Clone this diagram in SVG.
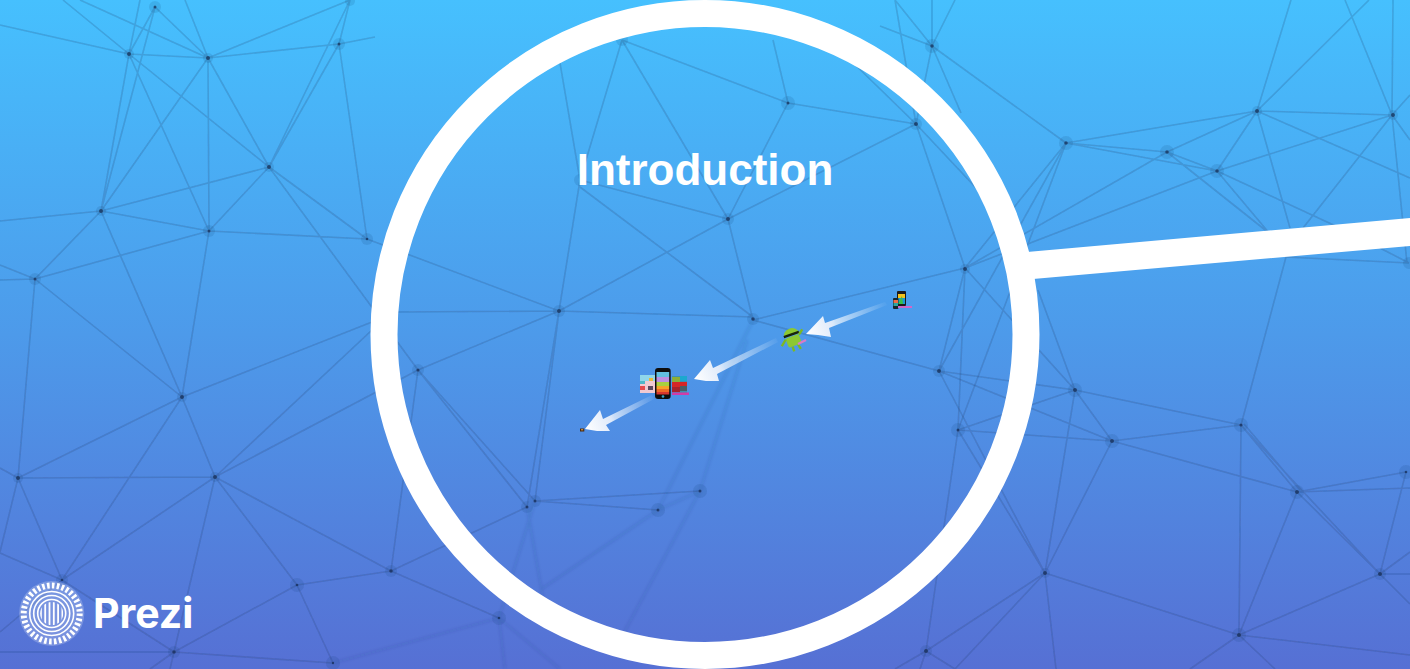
<svg xmlns="http://www.w3.org/2000/svg" width="1410" height="669" viewBox="0 0 1410 669">
<style>
.e{fill:none;stroke:#1c3566;stroke-width:1.6;stroke-opacity:.2}
.s{stroke-opacity:.12;stroke-width:2.2}
.h{fill:#1c3566;opacity:.12}
.c{fill:#142a50;opacity:.7}
.n{font-family:"Liberation Sans",Arial,sans-serif;font-weight:700;font-size:44px;fill:#fff;text-anchor:middle}
.p{font-family:Inter,"Liberation Sans",sans-serif;font-weight:700;font-size:41px;fill:#fff}
.w{fill:none;stroke:#fff}
</style>
<defs>
<linearGradient id="bg" x1="0" y1="0" x2="0" y2="1"><stop offset="0" stop-color="#46c0fe"/><stop offset=".5" stop-color="#4d9aea"/><stop offset="1" stop-color="#5670d4"/></linearGradient>
<filter id="b1" x="-5%" y="-5%" width="110%" height="110%"><feGaussianBlur stdDeviation=".75"/></filter>
<filter id="b2" x="-5%" y="-5%" width="110%" height="110%"><feGaussianBlur stdDeviation="1.5"/></filter>
<filter id="b3" x="-30%" y="-30%" width="160%" height="160%"><feGaussianBlur stdDeviation=".6"/></filter>
<linearGradient id="a1" gradientUnits="userSpaceOnUse" x1="806" y1="334" x2="885" y2="305"><stop offset="0" stop-color="#fff"/><stop offset=".32" stop-color="#dfeafa"/><stop offset=".38" stop-color="#fff" stop-opacity=".7"/><stop offset="1" stop-color="#fff" stop-opacity=".05"/></linearGradient>
<linearGradient id="a2" gradientUnits="userSpaceOnUse" x1="694" y1="379" x2="777" y2="340"><stop offset="0" stop-color="#fff"/><stop offset=".3" stop-color="#dfeafa"/><stop offset=".36" stop-color="#fff" stop-opacity=".7"/><stop offset="1" stop-color="#fff" stop-opacity=".05"/></linearGradient>
<linearGradient id="a3" gradientUnits="userSpaceOnUse" x1="585" y1="429" x2="653" y2="397"><stop offset="0" stop-color="#fff"/><stop offset=".36" stop-color="#dfeafa"/><stop offset=".42" stop-color="#fff" stop-opacity=".7"/><stop offset="1" stop-color="#fff" stop-opacity=".05"/></linearGradient>
<clipPath id="lc"><circle cx="51.7" cy="613.5" r="11.5"/></clipPath>
</defs>
<rect id="background" width="1410" height="669" fill="url(#bg)"/>
<g id="network">
<g filter="url(#b1)">
<path class="e" d="M208 58L129 54M208 58L339 44M208 58L350 0M208 58L185 0M208 58L155 7M208 58L80 0M129 54L63 0M129 54L0 25M129 54L155 7M129 54L140 0M129 54L101 211M155 7L101 211M129 54L209 231M129 54L269 167M208 58L101 211M208 58L209 231M208 58L269 167M269 167L101 211M269 167L209 231M269 167L339 44M269 167L350 0M339 44L350 0M339 44L375 37M339 44L367 239M269 167L367 239M269 167L418 370M101 211L0 221M101 211L209 231M101 211L35 279M101 211L182 397M209 231L35 279M209 231L367 239M209 231L182 397M35 279L0 265M35 279L0 280M35 279L182 397M35 279L18 478M182 397L372 322M182 397L18 478M182 397L215 477M182 397L62 580M18 478L215 477M18 478L62 580M18 478L0 468M18 478L0 552M62 580L215 477M62 580L0 553M62 580L0 632M215 477L372 330M215 477L418 370M215 477L391 571M215 477L297 585M215 477L174 652M297 585L391 571M297 585L333 663M297 585L174 652M391 571L527 507M174 652L0 652M174 652L150 669M174 652L170 669M174 652L333 663M62 580L174 652M391 571L418 370M391 571L499 618"/>
<path class="e" d="M622 40L580 180M560 63L580 180M622 40L728 219M622 40L788 103M788 103L728 219M788 103L916 124M788 103L773 40M728 219L580 180M728 219L916 124M728 219L753 320M580 180L559 311M580 187L753 317M559 311L728 219M559 311L397 312M559 311L367 239M559 311L753 317M753 320L965 268M753 320L939 371M418 370L559 311M418 370L535 501M418 370L527 507M535 501L559 311M527 507L559 311M535 501L658 510M535 501L700 491"/>
<path class="e" d="M932 46L895 0M932 46L932 0M932 46L955 0M932 46L880 26M932 46L916 124M932 46L1066 143M932 46L961 113M895 0L916 124M916 124L965 268M916 124L978 190M916 124L840 50M965 268L1066 143M965 268L1167 152M965 268L1217 171M965 268L939 371M965 268L958 430M965 268L1075 390M1066 143L939 371M1066 143L958 430M1066 143L1167 152M1066 143L1217 171M1066 143L1257 111M1167 152L1257 111M1167 152L1217 171M1167 152L1269 233M1217 171L1340 228M1217 171L1275 240M1217 171L1257 111M1217 171L1392 115M1257 111L1392 115M1257 111L1290 228M1257 111L1410 178M1257 111L1291 0M1257 111L1369 0M1392 115L1303 228M1392 115L1345 0M1392 115L1393 0M1392 115L1410 95M1392 115L1410 140M1392 115L1407 263M1286 257L1409 263M1380 248L1409 263M1241 425L1286 257"/>
<path class="e" d="M939 371L1075 390M939 371L1112 441M939 371L1045 573M1075 390L958 430M1075 390L1112 441M1075 390L1045 573M1075 390L1241 425M1075 390L1038 290M1112 441L958 430M1112 441L1045 573M1112 441L1241 425M1112 441L1297 492M958 430L1045 573M958 430L926 651M1045 573L926 651M1045 573L955 669M1045 573L1056 669M1045 573L1239 635M1241 425L1297 492M1244 424L1300 490M1241 425L1380 574M1241 425L1239 635M1297 492L1406 472M1297 492L1410 488M1297 492L1239 635M1297 492L1380 574M1380 574L1406 472M1380 574L1239 635M1380 574L1410 574M1380 574L1410 604M1380 574L1410 552M1239 635L1410 655M1239 635L1190 669M1239 635L1275 669M926 651L895 669M926 651L955 669M926 651L920 669"/>
</g>
<g filter="url(#b2)">
<path class="e s" d="M658 510L700 491M658 510L753 320M700 491L747 340M658 510L540 590M700 491L620 640M535 501L499 618M527 507L545 610M499 618L333 663M499 618L560 669M499 618L505 669"/>
</g>
<g filter="url(#b1)">
<g class="h"><circle cx="155" cy="7" r="6"/><circle cx="129" cy="54" r="5"/><circle cx="208" cy="58" r="5"/><circle cx="339" cy="44" r="6"/><circle cx="350" cy="1" r="5"/><circle cx="269" cy="167" r="5"/><circle cx="101" cy="211" r="5"/><circle cx="209" cy="231" r="6"/><circle cx="35" cy="279" r="6"/><circle cx="367" cy="239" r="6"/><circle cx="182" cy="397" r="5"/><circle cx="18" cy="478" r="5"/><circle cx="215" cy="477" r="5"/><circle cx="62" cy="580" r="6"/><circle cx="297" cy="585" r="7"/><circle cx="391" cy="571" r="6"/><circle cx="174" cy="652" r="6"/><circle cx="333" cy="663" r="7"/><circle cx="622" cy="40" r="6"/><circle cx="788" cy="103" r="7"/><circle cx="580" cy="180" r="6"/><circle cx="728" cy="219" r="6"/><circle cx="559" cy="311" r="6"/><circle cx="753" cy="319" r="6"/><circle cx="418" cy="370" r="6"/><circle cx="535" cy="501" r="6"/><circle cx="527" cy="507" r="6"/><circle cx="658" cy="510" r="7"/><circle cx="700" cy="491" r="7"/><circle cx="499" cy="618" r="7"/><circle cx="932" cy="46" r="7"/><circle cx="916" cy="124" r="6"/><circle cx="1066" cy="143" r="7"/><circle cx="1167" cy="152" r="7"/><circle cx="1217" cy="171" r="7"/><circle cx="1257" cy="111" r="5"/><circle cx="1393" cy="115" r="5"/><circle cx="965" cy="269" r="5"/><circle cx="939" cy="371" r="6"/><circle cx="1075" cy="390" r="7"/><circle cx="958" cy="430" r="7"/><circle cx="1112" cy="441" r="7"/><circle cx="1241" cy="425" r="7"/><circle cx="1297" cy="492" r="7"/><circle cx="1406" cy="472" r="7"/><circle cx="1045" cy="573" r="5"/><circle cx="1380" cy="574" r="6"/><circle cx="1239" cy="635" r="7"/><circle cx="926" cy="651" r="6"/><circle cx="1409" cy="263" r="6"/></g>
<g class="c"><circle cx="155" cy="7" r="1.5"/><circle cx="129" cy="54" r="2"/><circle cx="208" cy="58" r="2"/><circle cx="339" cy="44" r="1.5"/><circle cx="269" cy="167" r="2"/><circle cx="101" cy="211" r="2"/><circle cx="209" cy="231" r="1.5"/><circle cx="35" cy="279" r="1.5"/><circle cx="367" cy="239" r="1.3"/><circle cx="182" cy="397" r="2"/><circle cx="18" cy="478" r="2"/><circle cx="215" cy="477" r="2"/><circle cx="62" cy="580" r="1.3"/><circle cx="297" cy="585" r="1.3"/><circle cx="391" cy="571" r="1.8"/><circle cx="174" cy="652" r="1.8"/><circle cx="333" cy="663" r="1.2"/><circle cx="788" cy="103" r="1.5"/><circle cx="728" cy="219" r="2"/><circle cx="559" cy="311" r="2"/><circle cx="753" cy="319" r="1.8"/><circle cx="418" cy="370" r="1.6"/><circle cx="535" cy="501" r="1.5"/><circle cx="527" cy="507" r="1.5"/><circle cx="658" cy="510" r="1.5"/><circle cx="700" cy="491" r="1.5"/><circle cx="499" cy="618" r="1.3"/><circle cx="932" cy="46" r="1.8"/><circle cx="916" cy="124" r="2"/><circle cx="1066" cy="143" r="1.8"/><circle cx="1167" cy="152" r="1.8"/><circle cx="1217" cy="171" r="1.8"/><circle cx="1257" cy="111" r="2"/><circle cx="1393" cy="115" r="2"/><circle cx="965" cy="269" r="2"/><circle cx="939" cy="371" r="2"/><circle cx="1075" cy="390" r="2"/><circle cx="958" cy="430" r="1.5"/><circle cx="1112" cy="441" r="2"/><circle cx="1241" cy="425" r="1.6"/><circle cx="1297" cy="492" r="2"/><circle cx="1406" cy="472" r="1.3"/><circle cx="1045" cy="573" r="2"/><circle cx="1380" cy="574" r="2"/><circle cx="1239" cy="635" r="2"/><circle cx="926" cy="651" r="2"/></g>
</g>
</g>
<g id="frame">
<circle cx="705" cy="334.5" r="321" fill="none" stroke="#fff" stroke-width="27"/>
<polygon points="1027,252 1410,218 1410,246 1033,279" fill="#fff"/>
</g>
<g id="title"><text class="n" x="705" y="185">Introduction</text></g>
<g id="connectors">
<polygon fill="url(#a1)" points="806,334 823,316 825,323 885,302 887,305 829,328 831,337 818,335"/>
<polygon fill="url(#a2)" points="694,379 710,360 713,368 776,338 778,342 717,374 719,381 706,381"/>
<polygon fill="url(#a3)" points="585,429 600,410 603,419 652,395 654,399 606,425 610,431 597,431"/>
</g>
<g id="icon-phones" filter="url(#b3)">
<rect x="897" y="291" width="9" height="15" rx="1" fill="#1b1b1f"/>
<rect x="898" y="294" width="7" height="4" fill="#f6c21c"/>
<polygon points="898,298 905,298 905,304 898,304" fill="#1f9ad0"/>
<polygon points="898,304 902,296 903,304" fill="#38c04a"/>
<rect x="893" y="298" width="5.5" height="11" rx="1" fill="#15272f"/>
<rect x="893.5" y="300" width="4.5" height="3" fill="#ee6a45"/>
<rect x="893.5" y="303" width="4.5" height="3" fill="#29a4a0"/>
<rect x="898" y="306" width="14" height="2" fill="#d066c8"/>
</g>
<g id="icon-android" filter="url(#b3)">
<g transform="rotate(-20 793 339)">
<path d="M785 335a8 7 0 0 1 16 0z" fill="#8cc832"/>
<rect x="785" y="333" width="16" height="2.4" fill="#18210c"/>
<rect x="786" y="336" width="14" height="10" rx="2" fill="#8cc832"/>
<path d="M786 337L780 342M800 337L805 333M790 346L790 351M796 346L797 351" stroke="#7cb824" stroke-width="2.4" fill="none"/>
</g>
<path d="M798 344L806 340" stroke="#d87ac8" stroke-width="2.2" fill="none"/>
</g>
<g id="icon-apps" filter="url(#b3)">
<rect x="640" y="375" width="15" height="18" fill="#f0c9d2"/>
<rect x="640" y="375" width="15" height="6" fill="#8fd6ea"/>
<rect x="640" y="381" width="5" height="3" fill="#4fb6c9"/>
<rect x="649" y="378" width="4" height="3" fill="#e8b93a"/>
<rect x="640" y="386" width="5" height="4" fill="#e5484d"/>
<rect x="648" y="386" width="5" height="4" fill="#5a4a60"/>
<rect x="672" y="376" width="15" height="17" fill="#3f8fb0"/>
<rect x="680" y="376" width="7" height="5" fill="#1fa8cf"/>
<rect x="672" y="377" width="8" height="5" fill="#8cae38"/>
<rect x="672" y="382" width="15" height="5" fill="#d62525"/>
<rect x="680" y="386" width="7" height="5" fill="#4a5e66"/>
<rect x="672" y="387" width="8" height="5" fill="#a8202a"/>
<rect x="672" y="392.5" width="17" height="2.5" fill="#d23aa8"/>
<rect x="655" y="368" width="15.7" height="31" rx="3" fill="#0e0e10"/>
<rect x="656.5" y="372" width="12.7" height="5" fill="#62bfe0"/>
<rect x="656.5" y="377" width="12.7" height="5" fill="#bd8ee0"/>
<rect x="656.5" y="382" width="12.7" height="4" fill="#a8d040"/>
<rect x="656.5" y="386" width="12.7" height="3" fill="#f5a32a"/>
<rect x="656.5" y="389" width="12.7" height="3" fill="#ef6a28"/>
<rect x="656.5" y="392" width="12.7" height="2.5" fill="#d8362e"/>
<circle cx="663" cy="396.5" r="1.3" fill="#3aa6c8"/>
</g>
<g id="icon-tiny">
<rect x="580" y="428.5" width="4.3" height="3" fill="#4a2a10"/>
<rect x="581" y="429.3" width="2.2" height="1" fill="#f2b04a"/>
</g>
<g id="prezi-logo">
<circle cx="51.7" cy="613.5" r="32.6" fill="#fff" fill-opacity=".22"/>
<circle class="w" cx="51.7" cy="613.5" r="28" stroke-width="6" stroke-dasharray="2.6 2.286"/>
<circle class="w" cx="51.7" cy="613.5" r="22" stroke-width="1.6"/>
<circle class="w" cx="51.7" cy="613.5" r="18" stroke-width="1.6"/>
<circle class="w" cx="51.7" cy="613.5" r="14" stroke-width="1.6"/>
<g clip-path="url(#lc)" fill="#fff"><rect x="40" y="600" width="1.8" height="28"/><rect x="44.3" y="600" width="1.8" height="28"/><rect x="48.6" y="600" width="1.8" height="28"/><rect x="52.9" y="600" width="1.8" height="28"/><rect x="57.2" y="600" width="1.8" height="28"/><rect x="61.5" y="600" width="1.8" height="28"/></g>
<text class="p" x="93" y="628">Prezi</text>
</g>
</svg>
